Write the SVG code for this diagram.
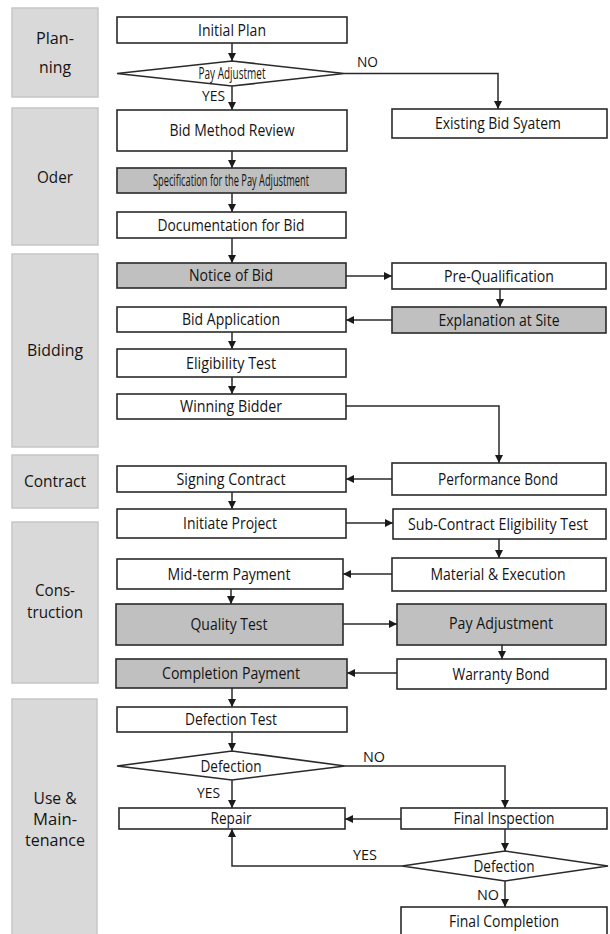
<svg xmlns="http://www.w3.org/2000/svg" width="610" height="934" viewBox="0 0 610 934">
<style>
.ph{fill:#d9d9d9;stroke:#c6c6c6;stroke-width:1.5}
.n{fill:#ffffff;stroke:#2a2a2a;stroke-width:1.6}
.g{fill:#c0c0c0;stroke:#2a2a2a;stroke-width:1.6}
.t{font-family:"Open Sans","Noto Sans",sans-serif;font-size:15.5px;fill:#141414;text-anchor:middle}
.pt{font-family:"Open Sans","Noto Sans",sans-serif;font-size:16.5px;fill:#141414;text-anchor:middle}
.l{font-family:"Open Sans","Noto Sans",sans-serif;font-size:14.5px;fill:#141414}
.c{fill:none;stroke:#2a2a2a;stroke-width:1.5;marker-end:url(#ah)}
</style>
<defs>
<marker id="ah" viewBox="0 0 10 10" refX="10" refY="5" markerWidth="8" markerHeight="8" markerUnits="userSpaceOnUse" orient="auto">
<path d="M0,0 L10,5 L0,10 z" fill="#1a1a1a"/>
</marker>
</defs>
<rect width="610" height="934" fill="#ffffff"/>

<g id="phases">
<g id="ph-planning"><rect class="ph" x="12" y="8" width="86" height="89"/>
<text class="pt" x="55" y="44" textLength="38" lengthAdjust="spacingAndGlyphs">Plan-</text>
<text class="pt" x="55" y="73" textLength="32" lengthAdjust="spacingAndGlyphs">ning</text></g>
<g id="ph-oder"><rect class="ph" x="12" y="108" width="86" height="137"/>
<text class="pt" x="55" y="183" textLength="36" lengthAdjust="spacingAndGlyphs">Oder</text></g>
<g id="ph-bidding"><rect class="ph" x="12" y="254" width="86" height="193"/>
<text class="pt" x="55" y="356" textLength="56" lengthAdjust="spacingAndGlyphs">Bidding</text></g>
<g id="ph-contract"><rect class="ph" x="12" y="455" width="86" height="53"/>
<text class="pt" x="55" y="487" textLength="62" lengthAdjust="spacingAndGlyphs">Contract</text></g>
<g id="ph-construction"><rect class="ph" x="12" y="522" width="86" height="161"/>
<text class="pt" x="55" y="596" font-size="15.5" textLength="40" lengthAdjust="spacingAndGlyphs">Cons-</text>
<text class="pt" x="55" y="618" font-size="15.5" textLength="56" lengthAdjust="spacingAndGlyphs">truction</text></g>
<g id="ph-use"><rect class="ph" x="12" y="699" width="85" height="245"/>
<text class="pt" x="55" y="804" font-size="15" textLength="43" lengthAdjust="spacingAndGlyphs">Use &amp;</text>
<text class="pt" x="55" y="825" font-size="15" textLength="44" lengthAdjust="spacingAndGlyphs">Main-</text>
<text class="pt" x="55" y="846" font-size="15" textLength="60" lengthAdjust="spacingAndGlyphs">tenance</text></g>
</g>

<g id="connectors">
<line class="c" x1="232" y1="43" x2="232" y2="61"/>
<line class="c" x1="232" y1="86" x2="232" y2="110"/>
<polyline class="c" points="344,73.5 498,73.5 498,109"/>
<line class="c" x1="232" y1="151" x2="232" y2="168"/>
<line class="c" x1="232" y1="193" x2="232" y2="212"/>
<line class="c" x1="232" y1="238" x2="232" y2="263"/>
<line class="c" x1="346" y1="276" x2="392" y2="276"/>
<line class="c" x1="500" y1="289" x2="500" y2="307"/>
<line class="c" x1="392" y1="320" x2="346" y2="320"/>
<line class="c" x1="232" y1="332" x2="232" y2="349"/>
<line class="c" x1="232" y1="377" x2="232" y2="394"/>
<polyline class="c" points="346,406 499,406 499,463"/>
<line class="c" x1="392" y1="479" x2="346" y2="479"/>
<line class="c" x1="232" y1="492" x2="232" y2="509"/>
<line class="c" x1="346" y1="523" x2="393" y2="523"/>
<line class="c" x1="499" y1="539" x2="499" y2="558"/>
<line class="c" x1="392" y1="574" x2="343" y2="574"/>
<line class="c" x1="231" y1="589" x2="231" y2="604"/>
<line class="c" x1="343" y1="624" x2="397" y2="624"/>
<line class="c" x1="502" y1="645" x2="502" y2="659"/>
<line class="c" x1="397" y1="673" x2="347" y2="673"/>
<line class="c" x1="232" y1="688" x2="232" y2="707"/>
<line class="c" x1="232" y1="732" x2="232" y2="751"/>
<line class="c" x1="232" y1="780" x2="232" y2="808"/>
<polyline class="c" points="345,766 505,766 505,808"/>
<line class="c" x1="401" y1="819" x2="345" y2="819"/>
<line class="c" x1="505" y1="829" x2="505" y2="851"/>
<polyline class="c" points="402,866 232,866 232,829"/>
<line class="c" x1="505" y1="881" x2="505" y2="907"/>
<text class="l" x="202" y="101" textLength="23" lengthAdjust="spacingAndGlyphs">YES</text>
<text class="l" x="357" y="67" textLength="21" lengthAdjust="spacingAndGlyphs">NO</text>
<text class="l" x="197" y="798" textLength="23" lengthAdjust="spacingAndGlyphs">YES</text>
<text class="l" x="363" y="762" textLength="22" lengthAdjust="spacingAndGlyphs">NO</text>
<text class="l" x="353" y="860" textLength="24" lengthAdjust="spacingAndGlyphs">YES</text>
<text class="l" x="477" y="900" textLength="22" lengthAdjust="spacingAndGlyphs">NO</text>
</g>

<g id="initial-plan"><rect class="n" x="117" y="17" width="230" height="26"/>
<text class="t" x="232" y="35.5" textLength="68" lengthAdjust="spacingAndGlyphs">Initial Plan</text></g>
<g id="pay-adjustmet"><polygon class="n" points="117,73.5 232,61 344,73.5 232,86"/>
<text class="t" x="232" y="79" textLength="67" lengthAdjust="spacingAndGlyphs">Pay Adjustmet</text></g>
<g id="existing-bid"><rect class="n" x="392" y="109" width="215" height="29"/>
<text class="t" x="498" y="129" textLength="126" lengthAdjust="spacingAndGlyphs">Existing Bid Syatem</text></g>
<g id="bid-method"><rect class="n" x="117" y="110" width="230" height="41"/>
<text class="t" x="232" y="136" textLength="125" lengthAdjust="spacingAndGlyphs">Bid Method Review</text></g>
<g id="specification"><rect class="g" x="117" y="168" width="229" height="25"/>
<text class="t" x="231" y="186" textLength="156" lengthAdjust="spacingAndGlyphs">Specification for the Pay Adjustment</text></g>
<g id="documentation"><rect class="n" x="117" y="212" width="229" height="26"/>
<text class="t" x="231" y="230.5" textLength="147" lengthAdjust="spacingAndGlyphs">Documentation for Bid</text></g>
<g id="notice"><rect class="g" x="117" y="263" width="229" height="25"/>
<text class="t" x="231" y="281" textLength="84" lengthAdjust="spacingAndGlyphs">Notice of Bid</text></g>
<g id="pre-qualification"><rect class="n" x="392" y="263" width="214" height="26"/>
<text class="t" x="499" y="281.5" textLength="110" lengthAdjust="spacingAndGlyphs">Pre-Qualification</text></g>
<g id="bid-application"><rect class="n" x="117" y="307" width="229" height="25"/>
<text class="t" x="231" y="325" textLength="98" lengthAdjust="spacingAndGlyphs">Bid Application</text></g>
<g id="explanation"><rect class="g" x="392" y="307" width="214" height="26"/>
<text class="t" x="499" y="325.5" textLength="121" lengthAdjust="spacingAndGlyphs">Explanation at Site</text></g>
<g id="eligibility"><rect class="n" x="117" y="349" width="229" height="28"/>
<text class="t" x="231" y="368.5" textLength="90" lengthAdjust="spacingAndGlyphs">Eligibility Test</text></g>
<g id="winning"><rect class="n" x="117" y="394" width="229" height="25"/>
<text class="t" x="231" y="412" textLength="102" lengthAdjust="spacingAndGlyphs">Winning Bidder</text></g>
<g id="performance"><rect class="n" x="392" y="463" width="214" height="32"/>
<text class="t" x="498" y="484.5" textLength="120" lengthAdjust="spacingAndGlyphs">Performance Bond</text></g>
<g id="signing"><rect class="n" x="117" y="466" width="229" height="26"/>
<text class="t" x="231" y="484.5" textLength="109" lengthAdjust="spacingAndGlyphs">Signing Contract</text></g>
<g id="initiate"><rect class="n" x="117" y="509" width="229" height="29"/>
<text class="t" x="230" y="529" textLength="94" lengthAdjust="spacingAndGlyphs">Initiate Project</text></g>
<g id="sub-contract"><rect class="n" x="393" y="509" width="213" height="30"/>
<text class="t" x="498" y="529.5" textLength="180" lengthAdjust="spacingAndGlyphs">Sub-Contract Eligibility Test</text></g>
<g id="mid-term"><rect class="n" x="117" y="559" width="226" height="30"/>
<text class="t" x="229" y="579.5" textLength="123" lengthAdjust="spacingAndGlyphs">Mid-term Payment</text></g>
<g id="material"><rect class="n" x="392" y="558" width="214" height="33"/>
<text class="t" x="498" y="580" textLength="135" lengthAdjust="spacingAndGlyphs">Material &amp; Execution</text></g>
<g id="quality"><rect class="g" x="116" y="604" width="227" height="41"/>
<text class="t" x="229" y="630" textLength="77" lengthAdjust="spacingAndGlyphs">Quality Test</text></g>
<g id="pay-adjustment"><rect class="g" x="397" y="604" width="209" height="41"/>
<text class="t" x="501" y="629" textLength="104" lengthAdjust="spacingAndGlyphs">Pay Adjustment</text></g>
<g id="completion"><rect class="g" x="116" y="659" width="231" height="29"/>
<text class="t" x="231" y="679" textLength="138" lengthAdjust="spacingAndGlyphs">Completion Payment</text></g>
<g id="warranty"><rect class="n" x="397" y="659" width="209" height="30"/>
<text class="t" x="501" y="679.5" textLength="97" lengthAdjust="spacingAndGlyphs">Warranty Bond</text></g>
<g id="defection-test"><rect class="n" x="117" y="707" width="230" height="25"/>
<text class="t" x="231" y="725" textLength="92" lengthAdjust="spacingAndGlyphs">Defection Test</text></g>
<g id="defection1"><polygon class="n" points="117,766 232,751 345,766 232,780"/>
<text class="t" x="231" y="771.5" textLength="61" lengthAdjust="spacingAndGlyphs">Defection</text></g>
<g id="repair"><rect class="n" x="119" y="808" width="226" height="21"/>
<text class="t" x="231" y="824" textLength="41" lengthAdjust="spacingAndGlyphs">Repair</text></g>
<g id="final-inspection"><rect class="n" x="401" y="808" width="206" height="21"/>
<text class="t" x="504" y="824" textLength="101" lengthAdjust="spacingAndGlyphs">Final Inspection</text></g>
<g id="defection2"><polygon class="n" points="402,866 505,851 608,866 505,881"/>
<text class="t" x="504" y="871.5" textLength="61" lengthAdjust="spacingAndGlyphs">Defection</text></g>
<g id="final-completion"><rect class="n" x="401" y="907" width="206" height="35"/>
<text class="t" x="504" y="927" textLength="110" lengthAdjust="spacingAndGlyphs">Final Completion</text></g>
</svg>
